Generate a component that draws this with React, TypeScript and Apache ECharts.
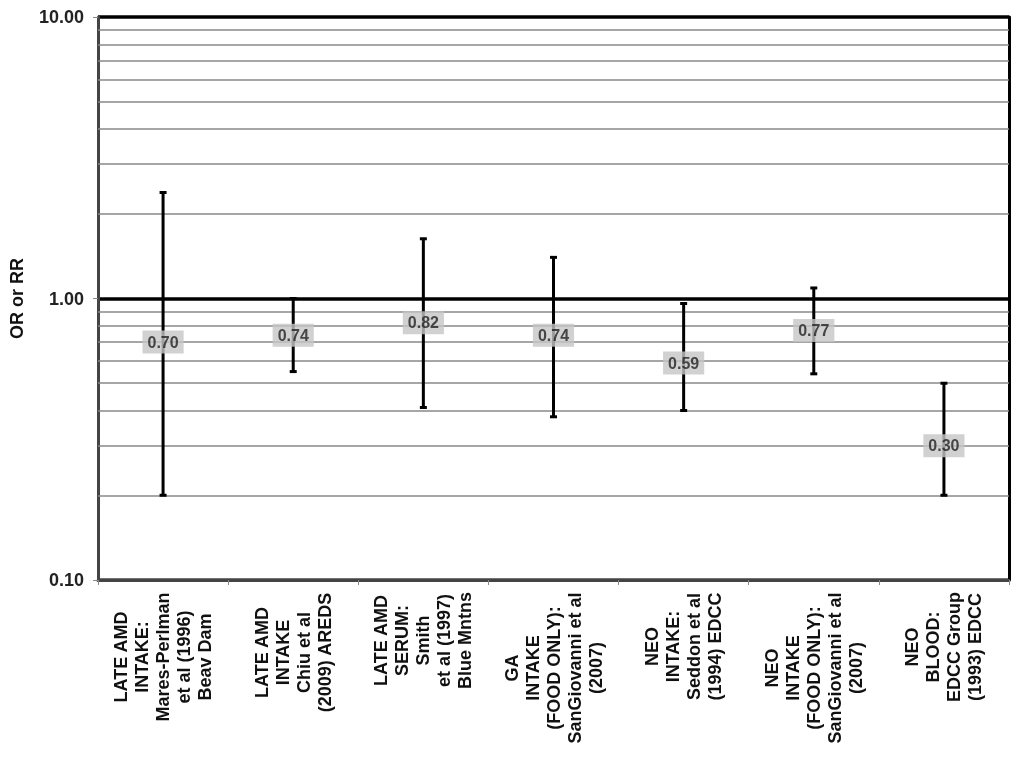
import React, { useEffect, useRef } from "react";
import * as echarts from "echarts";

const categories = [
  "LATE AMD\nINTAKE:\nMares-Perlman\net al (1996)\nBeav Dam",
  "LATE AMD\nINTAKE\nChiu et al\n(2009) AREDS",
  "LATE AMD\nSERUM:\nSmith\net al (1997)\nBlue Mntns",
  "GA\nINTAKE\n(FOOD ONLY):\nSanGiovanni et al\n(2007)",
  "NEO\nINTAKE:\nSeddon et al\n(1994) EDCC",
  "NEO\nINTAKE\n(FOOD ONLY):\nSanGiovanni et al\n(2007)",
  "NEO\nBLOOD:\nEDCC Group\n(1993) EDCC",
];
const estimates = [0.7, 0.74, 0.82, 0.74, 0.59, 0.77, 0.3];
const lower = [0.2, 0.55, 0.41, 0.38, 0.4, 0.54, 0.2];
const upper = [2.38, 1.0, 1.63, 1.4, 0.96, 1.09, 0.5];
const minorGrid = [0.2, 0.3, 0.4, 0.5, 0.6, 0.7, 0.8, 0.9, 2, 3, 4, 5, 6, 7, 8, 9];

const FONT = "'Liberation Sans', Arial, Helvetica, sans-serif";

export default function App() {
  const ref = useRef<HTMLDivElement>(null);
  useEffect(() => {
    if (!ref.current) return;
    const chart = echarts.init(ref.current, undefined, { renderer: "svg" });

    const canvas = document.createElement("canvas");
    const ctx = canvas.getContext("2d")!;
    ctx.font = `bold 18px ${FONT}`;
    const rich: Record<string, any> = {};
    categories.forEach((c, i) => {
      const w = Math.max(...c.split("\n").map((l) => ctx.measureText(l).width));
      rich["c" + i] = {
        width: Math.ceil(w) + 2,
        align: "center",
        fontSize: 18,
        fontWeight: "bold",
        fontFamily: FONT,
        lineHeight: 21,
        color: "#111",
      };
    });

    chart.setOption({
      animation: false,
      grid: { left: 96, top: 17, right: 15, bottom: 178 },
      xAxis: {
        type: "category",
        data: categories,
        axisLine: { lineStyle: { color: "#444", width: 3 } },
        axisTick: { show: true, length: 5, lineStyle: { color: "#888", width: 1 } },
        axisLabel: {
          rotate: 90,
          interval: 0,
          margin: 11,
          formatter: (value: string, index: number) =>
            value
              .split("\n")
              .map((l) => `{c${index}|${l}}`)
              .join("\n"),
          rich,
        },
        splitLine: { show: false },
      },
      yAxis: [
        {
          type: "log",
          logBase: 10,
          min: 0.1,
          max: 10,
          name: "OR or RR",
          nameLocation: "middle",
          nameGap: 72,
          nameTextStyle: { fontSize: 18, fontWeight: "bold", fontFamily: FONT, color: "#111" },
          axisLine: { show: true, lineStyle: { color: "#444", width: 3 } },
          axisTick: { show: true, length: 5, lineStyle: { color: "#888", width: 1 } },
          axisLabel: {
            margin: 14,
            fontSize: 18,
            fontWeight: "bold",
            fontFamily: FONT,
            color: "#222",
            formatter: (v: number) => Number(v).toFixed(2),
          },
          splitLine: { show: true, lineStyle: { color: ["#444", "#000", "#000"], width: 3.5 } },
        },
        {
          type: "log",
          logBase: 10,
          min: 0.1,
          max: 10,
          position: "right",
          axisLine: { show: true, lineStyle: { color: "#000", width: 3 } },
          axisTick: { show: false },
          axisLabel: { show: false },
          splitLine: { show: false },
        },
      ],
      series: [
        {
          type: "custom",
          z: 3,
          data: categories.map((_, i) => [i, lower[i], upper[i]]),
          encode: { x: 0, y: [1, 2] },
          renderItem: (params: any, api: any) => {
            const lo = api.coord([api.value(0), api.value(1)]);
            const hi = api.coord([api.value(0), api.value(2)]);
            const cap = 3.5;
            const st = { stroke: "#000", lineWidth: 3 };
            return {
              type: "group",
              children: [
                { type: "line", shape: { x1: lo[0], y1: lo[1], x2: hi[0], y2: hi[1] }, style: st },
                { type: "line", shape: { x1: lo[0] - cap, y1: lo[1], x2: lo[0] + cap, y2: lo[1] }, style: st },
                { type: "line", shape: { x1: hi[0] - cap, y1: hi[1], x2: hi[0] + cap, y2: hi[1] }, style: st },
              ],
            };
          },
          markLine: {
            silent: true,
            symbol: "none",
            label: { show: false },
            lineStyle: { color: "#888", width: 1.5, type: "solid" },
            data: minorGrid.map((v) => ({ yAxis: v })),
            z: 1,
          },
        },
        {
          type: "scatter",
          z: 5,
          symbolSize: 1,
          itemStyle: { color: "transparent" },
          data: estimates.map((v, i) => [i, v]),
          label: {
            show: true,
            position: "inside",
            formatter: (p: any) => Number(p.value[1]).toFixed(2),
            backgroundColor: "#c6c6c6",
            padding: [4, 5, 3, 5],
            fontSize: 16,
            fontWeight: "bold",
            fontFamily: FONT,
            color: "#222",
          },
        },
      ],
    });
    return () => chart.dispose();
  }, []);
  return <div ref={ref} style={{ position: "fixed", left: 0, top: 0, width: 1024, height: 758 }} />;
}
